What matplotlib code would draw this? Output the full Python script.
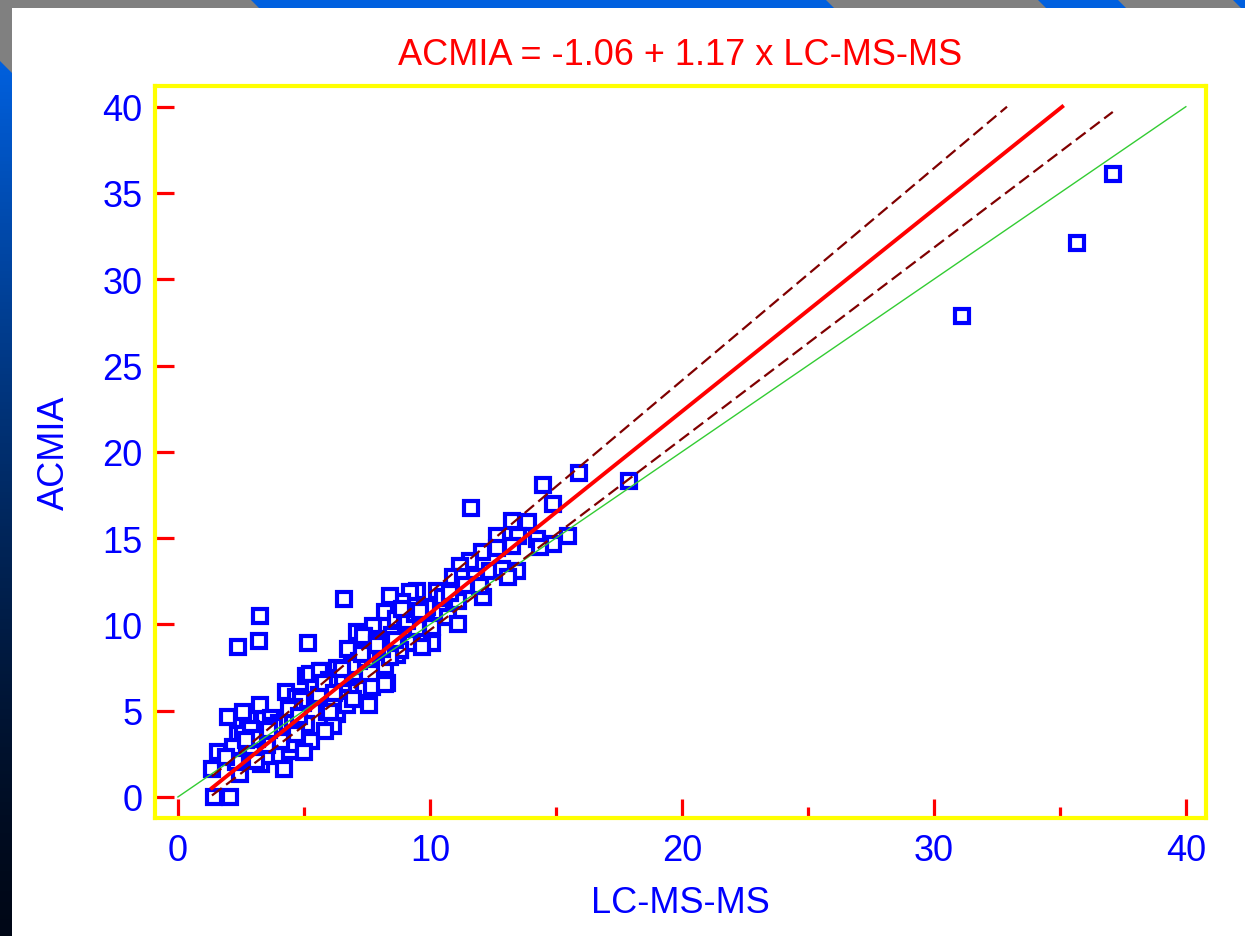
import numpy as np
import matplotlib
matplotlib.use("Agg")
import matplotlib.pyplot as plt
from matplotlib.patches import Polygon, Rectangle
from matplotlib.ticker import MultipleLocator

plt.rcParams["font.family"] = ["Liberation Sans", "DejaVu Sans"]

# ---------------------------------------------------------------------------
# Data
# ---------------------------------------------------------------------------
lcms = [
    37.1, 35.7, 31.1, 17.9, 15.9, 14.5, 14.9, 11.65,
    15.5, 14.9, 14.25, 13.9, 13.25, 13.5, 12.65, 14.35, 13.25, 12.65, 12.05,
    11.6, 11.2, 10.9, 11.3, 11.8, 12.4, 12.85, 13.45, 13.1, 12.1, 11.1,
    10.3, 9.5, 9.8, 10.4, 10.7, 11.1, 10.1, 9.2, 8.9, 8.4, 8.2, 8.65,
    6.6, 3.25, 3.2, 2.4, 5.15, 7.1, 7.75, 7.4, 8.0, 8.8, 9.3, 10.1, 9.7,
    8.7, 8.2, 6.75, 7.35, 7.9, 8.8, 6.3, 5.75, 5.1, 7.5, 8.4, 6.7, 7.1,
    7.4, 4.3, 4.7, 5.5, 6.3, 6.7, 5.9, 6.15, 5.3, 4.45, 4.45, 4.2, 3.3,
    3.65, 3.4, 2.8, 2.0, 2.6, 3.25, 3.9, 2.4, 3.25, 2.6, 1.6, 2.4, 1.35,
    2.45, 3.5, 1.45, 2.05, 8.3, 7.6, 5.1, 5.55, 6.15, 7.7, 8.2, 6.95,
    4.95, 5.25, 5.65, 6.05, 5.85, 3.55, 3.15, 2.9, 3.7, 4.1, 4.7, 5.0,
    9.0, 9.5, 8.5, 7.2, 7.0, 6.4, 6.0, 5.4, 4.9, 4.0, 3.8, 3.0, 2.2,
    9.9, 10.5, 11.4, 12.0, 8.1, 9.1, 6.9, 5.6, 4.6, 3.6, 2.7, 7.9, 8.6,
    10.8, 9.4, 7.3, 6.5, 5.8, 4.4, 3.1, 2.3, 1.9, 4.8, 6.2, 8.9, 9.6,
]
acmia = [
    36.1, 32.1, 27.9, 18.3, 18.8, 18.1, 17.0, 16.75,
    15.1, 14.65, 14.95, 15.95, 16.0, 15.1, 15.1, 14.5, 14.55, 14.4, 14.2,
    13.7, 13.4, 12.75, 12.75, 12.75, 13.1, 13.2, 13.1, 12.75, 11.6, 11.35,
    11.95, 11.95, 10.9, 10.7, 10.4, 10.0, 9.85, 11.9, 11.3, 11.65, 10.7, 10.3,
    11.5, 10.5, 9.05, 8.7, 8.9, 9.55, 9.9, 9.3, 9.15, 8.5, 8.9, 8.9, 8.7,
    8.2, 7.6, 8.6, 9.3, 8.9, 8.5, 7.5, 7.3, 7.0, 8.0, 8.1, 6.55, 6.15,
    6.25, 6.1, 5.8, 5.8, 4.8, 5.3, 4.9, 4.1, 3.25, 2.65, 3.05, 1.6, 1.9,
    3.25, 4.5, 4.65, 4.65, 4.95, 5.3, 4.5, 3.65, 3.8, 3.65, 2.6, 2.4, 1.6,
    1.35, 2.4, 0.0, 0.0, 6.6, 5.3, 4.25, 6.2, 6.25, 6.4, 6.55, 5.7,
    5.45, 7.1, 7.3, 4.9, 3.8, 3.0, 3.35, 3.95, 4.6, 3.25, 3.65, 2.6,
    10.1, 9.8, 9.4, 7.9, 7.2, 6.9, 6.8, 6.3, 5.6, 4.3, 4.1, 3.4, 2.9,
    11.0, 11.6, 12.3, 12.2, 8.6, 10.2, 7.6, 5.9, 5.2, 3.9, 3.3, 8.8, 9.1,
    11.8, 10.6, 8.3, 7.4, 6.6, 5.1, 2.1, 2.0, 2.3, 4.7, 6.0, 10.9, 10.8,
]

# regression (red) and slope/intercept confidence lines (dashed)
fit_a, fit_b = -1.06, 1.17
ci_upper_a, ci_upper_b = -0.47, 1.23
ci_lower_a, ci_lower_b = -1.41, 1.108
y_cap = 40.0

title_text = "ACMIA = -1.06 + 1.17 x LC-MS-MS"
x_label = "LC-MS-MS"
y_label = "ACMIA"

# ---------------------------------------------------------------------------
# Figure with slide-like background decoration
# ---------------------------------------------------------------------------
W, H = 1245, 937
fig = plt.figure(figsize=(W / 100, H / 100), dpi=100)
bg = fig.add_axes([0, 0, 1, 1], zorder=-5)
bg.set_xlim(0, W)
bg.set_ylim(H, 0)
bg.axis("off")

grad = np.linspace(0, 1, 256)[:, None]
blue_top = np.array([0.0, 0.38, 0.88])
blue_bot = np.array([0.0, 0.03, 0.09])
img = (blue_top[None, None, :] * (1 - grad[..., None]) ** 1.4
       + blue_bot[None, None, :] * (1 - (1 - grad[..., None]) ** 1.4))
bg.imshow(img, extent=[0, 12, H, 55], aspect="auto", zorder=0)
bg.add_patch(Polygon([(0, 0), (12, 0), (12, 74), (0, 62)], closed=True,
                     color="#808080", lw=0, zorder=1))
bg.add_patch(Rectangle((0, 0), W, 9, color="#808080", lw=0, zorder=1))
for x0, x1 in [(250, 825), (1037, 1117), (1232, 1260)]:
    bg.add_patch(Polygon([(x0, 0), (x1, 0), (x1 + 9, 9), (x0 + 9, 9)],
                         closed=True, color="#0060df", lw=0, zorder=2))
bg.add_patch(Rectangle((12, 9), W - 12, H - 9, color="white", lw=0, zorder=3))

# ---------------------------------------------------------------------------
# Main axes
# ---------------------------------------------------------------------------
ax = fig.add_axes([155 / W, 1 - 819 / H, (1206 - 155) / W, (819 - 87) / H])
ax.set_facecolor("white")

ax.plot(lcms, acmia, linestyle="none", marker="s", markersize=9.4,
        markerfacecolor="white", markeredgecolor="#0000ff",
        markeredgewidth=3.0, zorder=2)

x_lo, x_hi = min(lcms), max(lcms)


def _segment(a, b):
    x_end = min(x_hi, (y_cap - a) / b)
    xs = np.array([x_lo, x_end])
    return xs, a + b * xs


ax.plot([0, 40], [0, 40], color="#33cc33", lw=1.0, zorder=3)
xs, ys = _segment(ci_upper_a, ci_upper_b)
ax.plot(xs, ys, color="#800000", lw=1.6, dashes=(5.5, 2.5), zorder=4)
xs, ys = _segment(ci_lower_a, ci_lower_b)
ax.plot(xs, ys, color="#800000", lw=1.6, dashes=(5.5, 2.5), zorder=4)
xs, ys = _segment(fit_a, fit_b)
ax.plot(xs, ys, color="#ff0000", lw=2.8, zorder=5)

ax.set_xlim(-0.91, 40.8)
ax.set_ylim(-1.22, 41.2)

for sp in ax.spines.values():
    sp.set_color("#ffff00")
    sp.set_linewidth(3)

ax.xaxis.set_major_locator(MultipleLocator(10))
ax.xaxis.set_minor_locator(MultipleLocator(5))
ax.yaxis.set_major_locator(MultipleLocator(5))
ax.tick_params(axis="both", which="major", direction="in", length=14,
               width=2.3, color="#ff0000", labelcolor="#0000ff",
               labelsize=26)
ax.tick_params(axis="x", which="major", pad=11)
ax.tick_params(axis="y", which="major", pad=9)
ax.tick_params(axis="x", which="minor", direction="in", length=8,
               width=2.3, color="#ff0000")

ax.set_xlabel(x_label, color="#0000ff", fontsize=26, labelpad=12)
ax.set_ylabel(y_label, color="#0000ff", fontsize=26, labelpad=22)
ax.set_title(title_text, color="#ff0000", fontsize=26, pad=16)

fig.savefig("out.png", dpi=100)
plt.close(fig)
